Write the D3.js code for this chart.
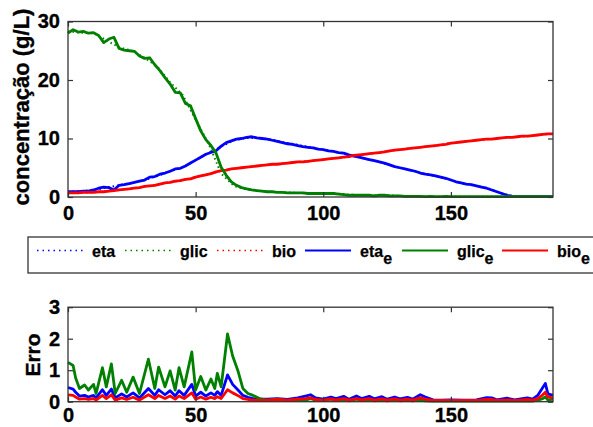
<!DOCTYPE html>
<html><head><meta charset="utf-8">
<script src="https://cdn.jsdelivr.net/npm/d3@7/dist/d3.min.js"></script>
<style>
body{margin:0;background:#fff;}
svg{display:block;font-family:"Liberation Sans",Arial,Helvetica,sans-serif;}
</style></head><body>
<svg id="c" width="593" height="427"></svg>
<script>
// ---------- DATA ----------
const expT = [0,2,4,6,8,10,12,14,16,18,20,22,24,26,28,30,32,34,36,38,40,42,44,46,48,50,52,54,56,58,60,62,64,66,68,70,72,74,76,78,80,82,84,86,88,90,92,94,96,98,100,102,104,106,108,110,112,114,116,118,120,122,124,126,128,130,132,134,136,138,140,142,144,146,148,150,152,154,156,158,160,162,164,166,168,170,172,174,176,178,180,182,184,186,188,190];
const etaE = [0.9,0.9,0.9,1.0,1.0,1.2,1.5,1.7,1.6,1.2,2.0,2.1,2.3,2.5,2.7,2.9,3.4,3.5,3.9,4.1,4.4,4.8,4.9,5.3,5.8,6.3,6.8,7.3,7.6,7.9,8.7,9.3,9.6,9.9,10.0,10.2,10.3,10.1,10.0,9.9,9.7,9.5,9.3,9.1,9.0,8.8,8.6,8.5,8.4,8.2,8.1,7.9,7.8,7.6,7.5,7.2,7.0,6.8,6.6,6.4,6.2,6.0,5.8,5.5,5.2,5.0,4.8,4.6,4.4,4.1,3.9,3.8,3.6,3.4,3.2,2.9,2.6,2.4,2.2,2.1,1.9,1.7,1.5,1.2,0.9,0.6,0.3,0.1,0.05,0.05,0.05,0.05,0.05,0.05,0.05,0.05];
const glicE = [28.0,28.6,28.2,28.3,28.0,28.1,27.6,26.4,27.0,27.3,25.4,25.1,25.0,24.9,24.1,23.7,23.8,22.6,21.6,20.4,19.3,17.9,17.8,16.0,15.6,13.4,11.3,9.8,8.8,7.5,5.1,3.7,2.6,2.0,1.6,1.4,1.2,1.1,1.0,0.9,0.9,0.8,0.8,0.7,0.7,0.7,0.7,0.6,0.6,0.6,0.6,0.6,0.6,0.5,0.4,0.3,0.3,0.3,0.3,0.3,0.2,0.3,0.3,0.2,0.2,0.2,0.1,0.1,0.1,0.1,0.05,0.1,0.05,0.05,0.1,0.05,0.05,0.05,0.05,0.05,0.05,0.05,0.05,0.05,0.05,0.05,0.05,0.05,0.05,0.05,0.05,0.05,0.05,0.05,0.05,0.05];
const bioE = [0.7,0.7,0.7,0.8,0.8,0.8,0.9,0.9,1.0,1.1,1.2,1.3,1.4,1.5,1.6,1.8,1.9,2.0,2.2,2.4,2.5,2.7,2.8,3.0,3.1,3.4,3.6,3.8,4.0,4.3,4.5,4.6,4.8,4.9,5.0,5.1,5.2,5.3,5.4,5.5,5.6,5.6,5.7,5.8,5.9,6.0,6.0,6.1,6.2,6.3,6.4,6.5,6.6,6.7,6.8,6.9,7.1,7.2,7.3,7.4,7.5,7.6,7.7,7.9,8.0,8.1,8.2,8.3,8.4,8.5,8.6,8.7,8.8,8.9,9.0,9.2,9.3,9.4,9.5,9.6,9.7,9.8,9.9,9.9,10.0,10.1,10.2,10.2,10.3,10.4,10.4,10.5,10.6,10.7,10.8,10.8];

const modT = [0,5,10,15,20,25,30,35,40,45,50,55,60,65,70,75,80,85,90,95,100,105,110,115,120,125,130,135,140,145,150,155,160,165,170,175,180,185,190];
const eta  = [0.9,1.0,1.2,1.6,2.0,2.4,2.9,3.6,4.4,5.1,6.3,7.5,8.6,9.7,10.1,10.1,9.8,9.3,8.9,8.5,8.1,7.7,7.2,6.7,6.2,5.6,5.0,4.5,3.9,3.5,2.9,2.3,1.9,1.4,0.6,0.1,0.05,0.05,0.05];
const glic = [28.3,28.1,28.0,26.8,25.6,25.0,23.8,22.3,19.6,17.4,13.2,9.2,4.0,1.9,1.3,1.0,0.9,0.8,0.7,0.6,0.6,0.6,0.4,0.3,0.3,0.3,0.2,0.1,0.1,0.05,0.05,0.05,0.05,0.05,0.05,0.05,0.05,0.05,0.05];
const bio  = [0.7,0.75,0.8,0.95,1.2,1.45,1.8,2.1,2.5,2.9,3.4,3.9,4.5,4.85,5.1,5.35,5.6,5.75,6.0,6.15,6.4,6.65,6.9,7.2,7.5,7.8,8.1,8.35,8.6,8.85,9.2,9.45,9.7,9.9,10.1,10.25,10.4,10.65,10.8];

const errT = [0,2,3,4.5,6.5,8,10,11,13.5,15,17,18.5,21,23,25.5,28,31.5,34,35.5,38,40,42,43.5,45.5,48.5,50,52,54,56,57.5,58.5,60,62.5,64.5,66.5,68.5,70.5,72.5,75,78,82,86,90,93,95,97,100,103,105,108,110,113,115,118,120,123,125,128,130,133,135,138,140,143,146,150,155,160,164,166,168,172,175,178,180,182,184,186,187,188,190];
const errEta = [0.45,0.4,0.3,0.18,0.2,0.15,0.2,0.12,0.38,0.2,0.4,0.12,0.25,0.15,0.28,0.12,0.42,0.2,0.38,0.22,0.35,0.18,0.35,0.2,0.55,0.18,0.3,0.18,0.28,0.2,0.32,0.2,0.85,0.55,0.38,0.2,0.14,0.1,0.08,
  0.08,0.1,0.07,0.12,0.18,0.22,0.12,0.08,0.15,0.1,0.17,0.08,0.18,0.1,0.17,0.09,0.16,0.08,0.15,0.09,0.14,0.08,0.22,0.15,0.06,0.05,0.06,0.05,0.06,0.13,0.12,0.06,0.11,0.06,0.1,0.12,0.08,0.2,0.45,0.58,0.25,0.2];
const errGlic = [1.25,1.15,0.75,0.42,0.53,0.37,0.55,0.26,1.08,0.47,1.2,0.26,0.68,0.3,0.78,0.26,1.35,0.42,1.1,0.47,0.98,0.37,1.08,0.47,1.58,0.37,0.8,0.37,0.72,0.42,0.9,0.47,2.15,1.45,1.0,0.42,0.26,0.2,0.1,
  0.05,0.08,0.04,0.06,0.05,0.1,0.05,0.04,0.08,0.04,0.07,0.03,0.08,0.04,0.07,0.03,0.06,0.03,0.07,0.03,0.05,0.03,0.06,0.03,0.02,0.02,0.02,0.02,0.02,0.02,0.02,0.02,0.02,0.02,0.02,0.02,0.02,0.05,0.1,0.15,0.05,0.08];
const errBio = [0.22,0.2,0.15,0.08,0.1,0.07,0.1,0.05,0.2,0.1,0.22,0.05,0.12,0.07,0.14,0.05,0.22,0.1,0.2,0.1,0.18,0.08,0.18,0.1,0.28,0.08,0.15,0.08,0.14,0.1,0.16,0.1,0.38,0.28,0.2,0.1,0.07,0.05,0.04,
  0.05,0.07,0.05,0.08,0.1,0.12,0.07,0.05,0.09,0.06,0.1,0.05,0.1,0.06,0.1,0.05,0.09,0.05,0.09,0.05,0.08,0.05,0.12,0.08,0.04,0.04,0.04,0.04,0.04,0.07,0.07,0.04,0.06,0.04,0.06,0.07,0.05,0.1,0.22,0.3,0.15,0.12];

const xTicks = [0,50,100,150];
const yTicksTop = [0,10,20,30];
const yTicksBot = [0,1,2,3];
const legendLabels = [["eta",""],["glic",""],["bio",""],["eta","e"],["glic","e"],["bio","e"]];
const colors = {eta:"#0000ff", glic:"#008000", bio:"#ff0000"};

// ---------- DRAW ----------
const svg = d3.select("#c");
const L = 68, R = 553;
const x = d3.scaleLinear().domain([0,190]).range([L,R]);
const yTop = d3.scaleLinear().domain([0,30]).range([197,21.5]);
const yBot = d3.scaleLinear().domain([0,3]).range([401.7,307.2]);

function styleText(sel, size){
  sel.attr("font-size",size).attr("font-weight","bold").attr("fill","#000")
    .attr("stroke","#000").attr("stroke-width",0.35)
    .attr("font-family","'Liberation Sans',Arial,sans-serif");
}
function box(y, yt, xPad){
  const g = svg.append("g");
  const [y0,y1] = y.range();
  const ax = d3.axisBottom(x).tickValues(xTicks).tickSizeInner(-5).tickSizeOuter(0).tickPadding(xPad).tickFormat(d3.format("d"));
  const axT = d3.axisTop(x).tickValues(xTicks).tickSizeInner(-5).tickSizeOuter(0).tickFormat("");
  const ay = d3.axisLeft(y).tickValues(yt).tickSizeInner(-5).tickSizeOuter(0).tickPadding(8).tickFormat(d3.format("d"));
  const ayR = d3.axisRight(y).tickValues(yt).tickSizeInner(-5).tickSizeOuter(0).tickFormat("");
  g.append("g").attr("transform",`translate(0,${y0})`).call(ax);
  g.append("g").attr("transform",`translate(0,${y1})`).call(axT);
  g.append("g").attr("transform",`translate(${L},0)`).call(ay);
  g.append("g").attr("transform",`translate(${R},0)`).call(ayR);
  g.selectAll(".domain").remove();
  g.selectAll(".tick line").attr("stroke","#333").attr("stroke-width",1.2);
  styleText(g.selectAll(".tick text"), 20);
  g.append("rect").attr("x",L).attr("y",y1).attr("width",R-L).attr("height",y0-y1)
    .attr("fill","none").attr("stroke","#333").attr("stroke-width",1.3);
  return g;
}
function line(y, T, V, color, dotted, w){
  const ln = d3.line().x((d,i)=>x(T[i])).y(d=>y(d));
  const p = svg.append("path").datum(V).attr("d",ln).attr("fill","none")
    .attr("stroke",color).attr("stroke-width",w).attr("stroke-linejoin","round");
  if(dotted) p.attr("stroke-dasharray","1.5,3");
  return p;
}

// top plot
line(yTop, modT, eta, colors.eta, true, 2);
line(yTop, modT, glic, colors.glic, true, 2);
line(yTop, modT, bio, colors.bio, true, 2);
line(yTop, expT, etaE, colors.eta, false, 2.8);
line(yTop, expT, bioE, colors.bio, false, 2.8);
line(yTop, expT, glicE, colors.glic, false, 2.8);
box(yTop, yTicksTop, 9);
styleText(svg.append("text").attr("transform",`translate(29,107) rotate(-90)`).attr("text-anchor","middle")
  .text("concentração (g/L)"), 22);

// bottom plot
line(yBot, errT, errEta, colors.eta, false, 2.8);
line(yBot, errT, errGlic, colors.glic, false, 2.8);
line(yBot, errT, errBio, colors.bio, false, 2.8);
box(yBot, yTicksBot, 6);
styleText(svg.append("text").attr("transform",`translate(40,355) rotate(-90)`).attr("text-anchor","middle")
  .text("Erro"), 21);

// legend
const lg = svg.append("g");
lg.append("rect").attr("x",28).attr("y",237).attr("width",600).attr("height",36)
  .attr("fill","#fff").attr("stroke","#333").attr("stroke-width",1.3);
const lineStarts = [37,125,217,305,402,502];
const keys = ["eta","glic","bio","eta","glic","bio"];
legendLabels.forEach((lab,i)=>{
  const x0 = lineStarts[i];
  const l = lg.append("line").attr("x1",x0).attr("x2",x0+46).attr("y1",250.5).attr("y2",250.5)
    .attr("stroke",colors[keys[i]]).attr("stroke-width",i<3?1.6:2);
  if(i<3) l.attr("stroke-dasharray","1.5,4");
  const t = lg.append("text").attr("x",x0+55).attr("y",257);
  styleText(t, 16);
  t.attr("stroke-width",0.25).text(lab[0]);
  if(lab[1]) t.append("tspan").attr("dy",7).text(lab[1]);
});
</script>
</body></html>
